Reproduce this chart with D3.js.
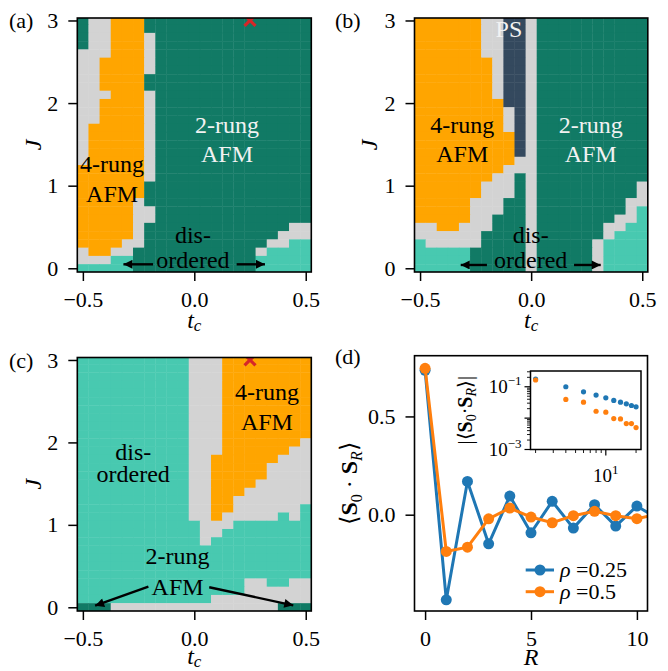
<!DOCTYPE html>
<html><head><meta charset="utf-8">
<script src="https://cdnjs.cloudflare.com/ajax/libs/d3/7.8.5/d3.min.js"></script>
<style>html,body{margin:0;padding:0;background:#fff;}</style>
</head><body>
<svg id="fig" width="668" height="671" xmlns="http://www.w3.org/2000/svg"></svg>
<script>
// ================= DATA =================
const tcGrid = [-0.5,-0.45,-0.4,-0.35,-0.3,-0.25,-0.2,-0.15,-0.1,-0.05,0,0.05,0.1,0.15,0.2,0.25,0.3,0.35,0.4,0.45,0.5];
const JGrid = [3.0,2.9,2.8,2.7,2.6,2.5,2.4,2.3,2.2,2.1,2.0,1.9,1.8,1.7,1.6,1.5,1.4,1.3,1.2,1.1,1.0,0.9,0.8,0.7,0.6,0.5,0.4,0.3,0.2,0.1,0.0];
// G = 2-rung AFM, T = disordered, O = 4-rung AFM, L = undetermined, P = phase separation
const phaseColors = {G:"#117a65", T:"#48c9b0", O:"#ffa500", L:"#d3d3d3", P:"#34495e"};
// rows from J=3.0 (top) to J=0 (bottom); columns tc=-0.5 ... 0.5
const phasesA = [
 "GLLOOOG GGGGGGGGG GGGGG",
 "GLLOOOG GGGGGGGGG GGGGG",
 "GLLOOOL GGGGGGGGG GGGGG",
 "GLLOOOL GGGGGGGGG GGGGG",
 "LLLOOOL GGGGGGGGG GGGGG",
 "LLOOOOL GGGGGGGGG GGGGG",
 "LLOOOOL GGGGGGGGG GGGGG",
 "LLOOOOG GGGGGGGGG GGGGG",
 "LLOOOOG GGGGGGGGG GGGGG",
 "LLLOOOL GGGGGGGGG GGGGG",
 "LLOOOOL GGGGGGGGG GGGGG",
 "LLOOOOL GGGGGGGGG GGGGG",
 "LLOOOOL GGGGGGGGG GGGGG",
 "LOOOOOL GGGGGGGGG GGGGG",
 "LOOOOOL GGGGGGGGG GGGGG",
 "LOOOOOL GGGGGGGGG GGGGG",
 "LOOOOOL GGGGGGGGG GGGGG",
 "LOOOOOL GGGGGGGGG GGGGG",
 "OOOOOOL GGGGGGGGG GGGGG",
 "OOOOOOL GGGGGGGGG GGGGG",
 "OOOOOOG GGGGGGGGG GGGGG",
 "OOOOOOG GGGGGGGGG GGGGG",
 "OOOOOLG GGGGGGGGG GGGGG",
 "OOOOOLL GGGGGGGGG GGGGG",
 "OOOOOLL GGGGGGGGG GGGGG",
 "OOOOOLG GGGGGGGGG GGGLL",
 "OOOOOLG GGGGGGGGG GGLLL",
 "OOOOLLG GGGGGGGGG GLLTT",
 "LOOLLGG GGGGGGGGG LTTTT",
 "LLLTTGG GGGGGGGGG TTTTT",
 "TTTTTGG GGGGGGGGG TTTTT"
];
const phasesB = [
 "OOOOOOLLPPL GGGGG GGGGG",
 "OOOOOOLLPPL GGGGG GGGGG",
 "OOOOOOLLPPL GGGGG GGGGG",
 "OOOOOOLLPPL GGGGG GGGGG",
 "OOOOOOLLPPL GGGGG GGGGG",
 "OOOOOOOLPPL GGGGG GGGGG",
 "OOOOOOOLPPL GGGGG GGGGG",
 "OOOOOOOLPPL GGGGG GGGGG",
 "OOOOOOOLPPL GGGGG GGGGG",
 "OOOOOOOLPPL GGGGG GGGGG",
 "OOOOOOOOPPL GGGGG GGGGG",
 "OOOOOOOOLPL GGGGG GGGGG",
 "OOOOOOOOLPL GGGGG GGGGG",
 "OOOOOOOOLPL GGGGG GGGGG",
 "OOOOOOOOOPL GGGGG GGGGG",
 "OOOOOOOOOPL GGGGG GGGGG",
 "OOOOOOOOOPL GGGGG GGGGG",
 "OOOOOOOOOLL GGGGG GGGGG",
 "OOOOOOOOLLL GGGGG GGGGG",
 "OOOOOOOLLGL GGGGG GGGGG",
 "OOOOOOLLLGL GGGGG GGGGL",
 "OOOOOOLLLGL GGGGG GGGGL",
 "OOOOOLLLGGL GGGGG GGGLL",
 "OOOOOLLLGGL GGGGG GGGLT",
 "OOOOOLLGGGL GGGGG GGLLT",
 "LLOOLLLGGGL GGGGG GLLTT",
 "LLLLLLGGGGL GGGGG GLTTT",
 "TLLLLLGGGGL GGGGG LTTTT",
 "TTTTTGGGGGL GGGGG LTTTT",
 "TTTTTGGGGGL GGGGG LTTTT",
 "TTTTTGGGGGL GGGGG LTTTT"
];
const phasesC = [
 "TTTTTTTTTT LLLOOOOOOOO",
 "TTTTTTTTTT LLLOOOOOOOO",
 "TTTTTTTTTT LLLOOOOOOOO",
 "TTTTTTTTTT LLLOOOOOOOO",
 "TTTTTTTTTT LLLOOOOOOOO",
 "TTTTTTTTTT LLLOOOOOOOO",
 "TTTTTTTTTT LLLOOOOOOOO",
 "TTTTTTTTTT LLLOOOOOOOO",
 "TTTTTTTTTT LLLOOOOOOOO",
 "TTTTTTTTTT LLLOOOOOOOO",
 "TTTTTTTTTT LLLOOOOOOOL",
 "TTTTTTTTTT LLLOOOOOOLL",
 "TTTTTTTTTT LLOOOOOOLLL",
 "TTTTTTTTTT LLOOOOOLLLL",
 "TTTTTTTTTT LLOOOOOLLLL",
 "TTTTTTTTTT LLOOOOLLLLL",
 "TTTTTTTTTT LLOOOLLLLLL",
 "TTTTTTTTTT LLOOLLLLLLL",
 "TTTTTTTTTT LLOOLLLLLLT",
 "TTTTTTTTTT LLOLLLLLTLT",
 "TTTTTTTTTT TLLLTTTTTTT",
 "TTTTTTTTTT TLLTTTTTTTT",
 "TTTTTTTTTT TLTTTTTTTTT",
 "TTTTTTTTTT TTTTTTTTTTT",
 "TTTTTTTTTT TTTTTTTTTTT",
 "TTTTTTTTTT TTTTTTTTTTT",
 "TTTTTTTTTT TTTTTTTTTTT",
 "TTTTTTTTTT TTTTTLLTTLL",
 "TTTTTTTTTT TTTTTLLLLLL",
 "TTTTTTTTTT TTLLLLLLLLL",
 "GGGLLLLLLL LLLLLLLLGGG"
];
const starPoint = [0.25, 3.0];
const tcTicks = [-0.5, 0, 0.5];
const JTicks = [0, 1, 2, 3];

const Rvals  = [0,1,2,3,4,5,6,7,8,9,10,11];
const corr025 = [0.735,-0.433,0.169,-0.148,0.095,-0.092,0.068,-0.068,0.051,-0.058,0.044,-0.022];
const corr05  = [0.745,-0.187,-0.165,-0.021,0.034,-0.012,-0.041,-0.005,0.017,-0.005,-0.020,0.003];
const RTicks = [0, 5, 10];
const corrTicks = [0, 0.5];

const insetR   = [2,4,6,8,10,12,14,16,18,20];
const inset025 = [0.177,0.100,0.0692,0.0542,0.0444,0.0366,0.0323,0.0285,0.0253,0.0229];
const inset05  = [0.164,0.0395,0.0323,0.0166,0.0155,0.0097,0.0094,0.0067,0.0067,0.0050];
const insetXMajor = [10];
const insetXMinor = [2,3,4,5,6,7,8,9,20];
const insetYMajor = [0.001, 0.01, 0.1];
const insetYMinor = [0.002,0.003,0.004,0.005,0.006,0.007,0.008,0.009,0.02,0.03,0.04,0.05,0.06,0.07,0.08,0.09,0.2,0.3];
const insetYLabeled = [0.001, 0.1];

// ================= DRAWING =================
const FONT = '"Liberation Serif", "Times New Roman", serif';
const svg = d3.select("#fig");
svg.append("rect").attr("width",668).attr("height",671).attr("fill","#fff");
const defs = svg.append("defs");
defs.append("marker").attr("id","ah").attr("viewBox","0 0 10 10")
  .attr("refX",10).attr("refY",5).attr("markerWidth",11).attr("markerHeight",9)
  .attr("markerUnits","userSpaceOnUse").attr("orient","auto")
  .append("path").attr("d","M0,0 L10,5 L0,10 Z").attr("fill","#000");

function styleAxis(g){
  g.attr("font-family",FONT).attr("font-size",22);
  g.select(".domain").remove();
  g.selectAll(".tick line").attr("stroke","#000").attr("stroke-width",1.5);
  g.selectAll(".tick text").attr("fill","#000").attr("font-family",FONT);
}

function addText(g, x, y, lines, spacing, color){
  const t = g.append("text").attr("x",x).attr("y",y).attr("text-anchor","middle")
    .attr("font-family",FONT).attr("font-size",24).attr("fill",color);
  lines.forEach((s,i)=>t.append("tspan").attr("x",x).attr("dy", i===0?0:spacing).text(s));
}

let clipId = 0;
function phasePanel(cfg){
  const xs = d3.scaleLinear().domain([-0.525,0.525]).range([cfg.x0,cfg.x1]);
  const ys = d3.scaleLinear().domain([-0.045,3.03]).range([cfg.y1,cfg.y0]);
  const id = "clip"+(clipId++);
  defs.append("clipPath").attr("id",id).append("rect")
    .attr("x",cfg.x0).attr("y",cfg.y0).attr("width",cfg.x1-cfg.x0).attr("height",cfg.y1-cfg.y0);
  const g = svg.append("g");
  const cells = g.append("g").attr("clip-path",`url(#${id})`);
  const dtc = (tcGrid[1]-tcGrid[0])/2, dJ = (JGrid[0]-JGrid[1])/2;
  const data = [];
  cfg.grid.forEach((row,r)=>{
    row.replace(/ /g,"").split("").forEach((ch,c)=>data.push({tc:tcGrid[c], J:JGrid[r], p:ch}));
  });
  cells.selectAll("rect").data(data).join("rect")
    .attr("x",d=>xs(d.tc-dtc)).attr("y",d=>ys(d.J+dJ))
    .attr("width",d=>xs(d.tc+dtc)-xs(d.tc-dtc)+0.4)
    .attr("height",d=>ys(d.J-dJ)-ys(d.J+dJ)+0.4)
    .attr("fill",d=>phaseColors[d.p]);
  if(cfg.star){
    const sx=xs(starPoint[0]), sy=ys(starPoint[1]), s=5.5;
    cells.append("path").attr("d",`M${sx-s},${sy-s}L${sx+s},${sy+s}M${sx-s},${sy+s}L${sx+s},${sy-s}`)
      .attr("stroke","#d62728").attr("stroke-width",3.2).attr("fill","none");
  }
  cfg.texts.forEach(t=>addText(g, xs(t.tc), ys(t.J), t.lines, t.sp, t.color));
  cfg.arrows.forEach(a=>g.append("line")
    .attr("x1",xs(a[0])).attr("y1",ys(a[1])).attr("x2",xs(a[2])).attr("y2",ys(a[3]))
    .attr("stroke","#000").attr("stroke-width",2.4).attr("marker-end","url(#ah)"));
  g.append("rect").attr("x",cfg.x0).attr("y",cfg.y0).attr("width",cfg.x1-cfg.x0).attr("height",cfg.y1-cfg.y0)
    .attr("fill","none").attr("stroke","#000").attr("stroke-width",1.6);
  const ax = g.append("g").attr("transform",`translate(0,${cfg.y1})`)
    .call(d3.axisBottom(xs).tickValues(tcTicks).tickFormat(d3.format(".1f")).tickSize(9).tickPadding(10.5));
  styleAxis(ax);
  const ay = g.append("g").attr("transform",`translate(${cfg.x0},0)`)
    .call(d3.axisLeft(ys).tickValues(JTicks).tickFormat(d3.format("d")).tickSize(9).tickPadding(10));
  styleAxis(ay);
  const xl = g.append("text").attr("x",(cfg.x0+cfg.x1)/2).attr("y",cfg.y1+cfg.xly).attr("text-anchor","middle")
    .attr("font-family",FONT).attr("font-size",24).attr("font-style","italic");
  xl.append("tspan").text("t");
  xl.append("tspan").attr("font-size",17).attr("dy",3).text("c");
  g.append("text").attr("transform",`translate(${cfg.jx},${(cfg.y0+cfg.y1)/2}) rotate(-90)`)
    .attr("text-anchor","middle").attr("font-family",FONT).attr("font-size",24).attr("font-style","italic").text("J");
  g.append("text").attr("x",cfg.lx).attr("y",cfg.y0+10).attr("font-family",FONT).attr("font-size",22).text(cfg.label);
}

phasePanel({x0:77.3,x1:311.3,y0:18,y1:272,grid:phasesA,star:true,label:"(a)",lx:9,jx:41,xly:56,
  texts:[{tc:0.147,J:1.64,lines:["2-rung","AFM"],sp:29,color:"#f2f2f2"},
         {tc:-0.369,J:1.166,lines:["4-rung","AFM"],sp:30,color:"#000"},
         {tc:-0.006,J:0.306,lines:["dis-","ordered"],sp:25,color:"#000"}],
  arrows:[[-0.185,0.048,-0.318,0.048],[0.19,0.048,0.317,0.048]]});
phasePanel({x0:414.5,x1:647.8,y0:18,y1:272,grid:phasesB,star:false,label:"(b)",lx:335,jx:377,xly:56,
  texts:[{tc:-0.1,J:2.804,lines:["PS"],sp:0,color:"#f2f2f2"},
         {tc:-0.31,J:1.64,lines:["4-rung","AFM"],sp:29,color:"#000"},
         {tc:0.268,J:1.64,lines:["2-rung","AFM"],sp:29,color:"#f2f2f2"},
         {tc:-0.002,J:0.306,lines:["dis-","ordered"],sp:25,color:"#000"}],
  arrows:[[-0.199,0.04,-0.317,0.04],[0.193,0.04,0.313,0.04]]});
phasePanel({x0:77.3,x1:311.3,y0:357.5,y1:611,grid:phasesC,star:true,label:"(c)",lx:9,jx:41,xly:53,
  texts:[{tc:0.326,J:2.514,lines:["4-rung","AFM"],sp:30,color:"#000"},
         {tc:-0.274,J:1.787,lines:["dis-","ordered"],sp:22,color:"#000"},
         {tc:-0.075,J:0.525,lines:["2-rung","AFM"],sp:31,color:"#000"}],
  arrows:[[-0.206,0.25,-0.445,0.019],[0.067,0.243,0.444,0.024]]});

// ----- panel (d) -----
(function(){
  const x0=414.5,x1=647.5,y0=355.7,y1=611;
  const xd = d3.scaleLinear().domain([-0.5,10.5]).range([x0,x1]);
  const yd = d3.scaleLinear().domain([-0.49,0.809]).range([y1,y0]);
  defs.append("clipPath").attr("id","clipd").append("rect").attr("x",x0).attr("y",y0).attr("width",x1-x0).attr("height",y1-y0);
  const g = svg.append("g");
  const pl = g.append("g").attr("clip-path","url(#clipd)");
  const series = [{v:corr025,c:"#1f77b4"},{v:corr05,c:"#ff7f0e"}];
  const line = d3.line().x((d,i)=>xd(Rvals[i])).y(d=>yd(d));
  series.forEach(s=>{
    pl.append("path").attr("d",line(s.v)).attr("fill","none").attr("stroke",s.c).attr("stroke-width",3);
    pl.selectAll(null).data(s.v).join("circle").attr("cx",(d,i)=>xd(Rvals[i])).attr("cy",d=>yd(d)).attr("r",5.5).attr("fill",s.c);
  });
  g.append("rect").attr("x",x0).attr("y",y0).attr("width",x1-x0).attr("height",y1-y0).attr("fill","none").attr("stroke","#000").attr("stroke-width",1.6);
  const ax = g.append("g").attr("transform",`translate(0,${y1})`).call(d3.axisBottom(xd).tickValues(RTicks).tickFormat(d3.format("d")).tickSize(9).tickPadding(10.5));
  styleAxis(ax);
  const ay = g.append("g").attr("transform",`translate(${x0},0)`).call(d3.axisLeft(yd).tickValues(corrTicks).tickFormat(d3.format(".1f")).tickSize(9).tickPadding(10));
  styleAxis(ay);
  g.append("text").attr("x",(x0+x1)/2).attr("y",665).attr("text-anchor","middle").attr("font-family",FONT).attr("font-size",24).attr("font-style","italic").text("R");
  const yl = g.append("text").attr("transform",`translate(357,${(y0+y1)/2}) rotate(-90)`).attr("text-anchor","middle").attr("font-family",FONT).attr("font-size",24);
  yl.append("tspan").text("⟨");
  yl.append("tspan").attr("font-weight","bold").text("S");
  yl.append("tspan").attr("font-size",16).attr("dy",5).text("0");
  yl.append("tspan").attr("dy",-5).text(" · ");
  yl.append("tspan").attr("font-weight","bold").text("S");
  yl.append("tspan").attr("font-size",16).attr("font-style","italic").attr("dy",5).text("R");
  yl.append("tspan").attr("dy",-5).text("⟩");
  g.append("text").attr("x",335).attr("y",y0+8).attr("font-family",FONT).attr("font-size",22).text("(d)");
  const leg = [{c:"#1f77b4",t:"0.25"},{c:"#ff7f0e",t:"0.5"}];
  leg.forEach((l,i)=>{
    const ly = 570 + i*21.7;
    g.append("line").attr("x1",525.7).attr("x2",554).attr("y1",ly).attr("y2",ly).attr("stroke",l.c).attr("stroke-width",3);
    g.append("circle").attr("cx",540).attr("cy",ly).attr("r",5.5).attr("fill",l.c);
    const tt = g.append("text").attr("x",560).attr("y",ly+7).attr("font-family",FONT).attr("font-size",22);
    tt.append("tspan").attr("font-style","italic").text("ρ");
    tt.append("tspan").text(" =" + l.t);
  });
  // inset
  const ix0=530.5, ix1=641, iy0=371, iy1=449.5;
  const xi = d3.scaleLog().domain([1.78,22.4]).range([ix0,ix1]);
  const yi = d3.scaleLog().domain([0.001,0.318]).range([iy1,iy0]);
  const gi = svg.append("g");
  gi.append("rect").attr("x",ix0).attr("y",iy0).attr("width",ix1-ix0).attr("height",iy1-iy0).attr("fill","#fff");
  [{v:inset025,c:"#1f77b4"},{v:inset05,c:"#ff7f0e"}].forEach(s=>{
    gi.selectAll(null).data(s.v).join("circle").attr("cx",(d,i)=>xi(insetR[i])).attr("cy",d=>yi(d)).attr("r",2.6).attr("fill",s.c);
  });
  gi.append("rect").attr("x",ix0).attr("y",iy0).attr("width",ix1-ix0).attr("height",iy1-iy0).attr("fill","none").attr("stroke","#000").attr("stroke-width",1.5);
  insetXMajor.forEach(v=>gi.append("line").attr("x1",xi(v)).attr("x2",xi(v)).attr("y1",iy1).attr("y2",iy1+6).attr("stroke","#000").attr("stroke-width",1.2));
  insetXMinor.forEach(v=>gi.append("line").attr("x1",xi(v)).attr("x2",xi(v)).attr("y1",iy1).attr("y2",iy1+3.5).attr("stroke","#000").attr("stroke-width",0.9));
  insetYMajor.forEach(v=>gi.append("line").attr("y1",yi(v)).attr("y2",yi(v)).attr("x1",ix0).attr("x2",ix0-6).attr("stroke","#000").attr("stroke-width",1.2));
  insetYMinor.forEach(v=>gi.append("line").attr("y1",yi(v)).attr("y2",yi(v)).attr("x1",ix0).attr("x2",ix0-3.5).attr("stroke","#000").attr("stroke-width",0.9));
  insetYLabeled.forEach(v=>{
    const e = Math.round(Math.log10(v));
    const t = gi.append("text").attr("x",ix0-9).attr("y",yi(v)+6).attr("text-anchor","end").attr("font-family",FONT).attr("font-size",19);
    t.append("tspan").text("10");
    t.append("tspan").attr("font-size",13).attr("dy",-8).text("−"+Math.abs(e));
  });
  insetXMajor.forEach(v=>{
    const t = gi.append("text").attr("x",xi(v)).attr("y",iy1+32).attr("text-anchor","middle").attr("font-family",FONT).attr("font-size",19);
    t.append("tspan").text("10");
    t.append("tspan").attr("font-size",13).attr("dy",-8).text(Math.round(Math.log10(v)));
  });
  const il = gi.append("text").attr("transform",`translate(472,${(iy0+iy1)/2}) rotate(-90)`).attr("text-anchor","middle").attr("font-family",FONT).attr("font-size",20);
  il.append("tspan").text("|⟨");
  il.append("tspan").attr("font-weight","bold").text("S");
  il.append("tspan").attr("font-size",14).attr("dy",4).text("0");
  il.append("tspan").attr("dy",-4).text("·");
  il.append("tspan").attr("font-weight","bold").text("S");
  il.append("tspan").attr("font-size",14).attr("font-style","italic").attr("dy",4).text("R");
  il.append("tspan").attr("dy",-4).text("⟩|");
})();
</script>
</body></html>
